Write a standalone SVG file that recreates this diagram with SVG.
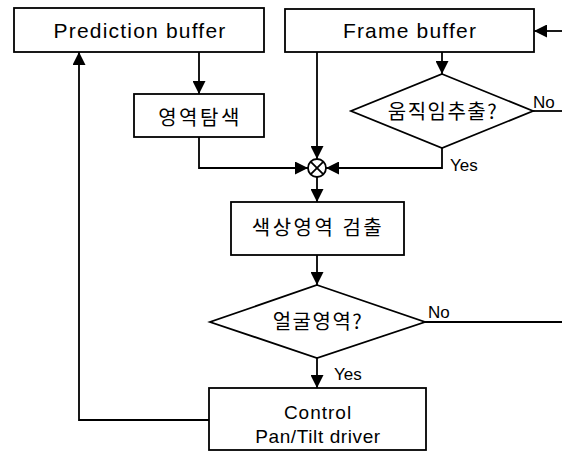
<svg xmlns="http://www.w3.org/2000/svg" width="562" height="452" viewBox="0 0 562 452">
<defs>
<style>
.box{fill:#fff;stroke:#000;stroke-width:1.8}
.ln{fill:none;stroke:#000;stroke-width:1.8}
.en{font-family:"Liberation Sans",Arial,sans-serif;font-size:21px;letter-spacing:1.2px;fill:#000;text-anchor:middle}
.ko{font-family:"Noto Sans CJK KR","Noto Sans",sans-serif;font-size:20px;fill:#000;text-anchor:middle}
.lab{font-family:"Liberation Sans",Arial,sans-serif;font-size:17px;fill:#000}
</style>
<marker id="ah" viewBox="0 0 13 13" refX="13" refY="6.5" markerWidth="13" markerHeight="13" markerUnits="userSpaceOnUse" orient="auto">
<path d="M0,0 L13,6.5 L0,13 Z" fill="#000"/>
</marker>
</defs>
<rect width="562" height="452" fill="#fff"/>
<g id="connectors">
<path class="ln" d="M199,52 V94" marker-end="url(#ah)"/>
<path class="ln" d="M199,137 V168 H308" marker-end="url(#ah)"/>
<path class="ln" d="M317,52 V159" marker-end="url(#ah)"/>
<path class="ln" d="M442,52 V74" marker-end="url(#ah)"/>
<path class="ln" d="M442,148 V168 H326" marker-end="url(#ah)"/>
<path class="ln" d="M533,111 H562"/>
<path class="ln" d="M562,31 H534" marker-end="url(#ah)"/>
<path class="ln" d="M317,177 V202" marker-end="url(#ah)"/>
<path class="ln" d="M317,255 V285" marker-end="url(#ah)"/>
<path class="ln" d="M425,322 H562"/>
<path class="ln" d="M317,358 V388" marker-end="url(#ah)"/>
<path class="ln" d="M209,420 H79 V52" marker-end="url(#ah)"/>
<text class="lab" x="450" y="171">Yes</text>
<text class="lab" x="533" y="108">No</text>
<text class="lab" x="334" y="380">Yes</text>
<text class="lab" x="428" y="318">No</text>
</g>
<g id="prediction-buffer">
<rect class="box" x="14" y="8" width="250" height="44"/>
<text class="en" x="140" y="38">Prediction buffer</text>
</g>
<g id="frame-buffer">
<rect class="box" x="285" y="9" width="249" height="43"/>
<text class="en" x="410" y="38">Frame buffer</text>
</g>
<g id="region-search">
<rect class="box" x="134" y="94" width="130" height="43"/>
<text class="ko" x="200" y="125" style="letter-spacing:2.5px">영역탐색</text>
</g>
<g id="motion-extract">
<polygon class="box" points="442,74 533,111 442,148 351,111"/>
<text class="ko" x="443" y="119" style="letter-spacing:1.5px">움직임추출?</text>
</g>
<g id="multiplier">
<circle class="box" cx="317" cy="168" r="9"/>
<path class="ln" d="M310.6,161.6 L323.4,174.4 M323.4,161.6 L310.6,174.4" stroke-width="1.3"/>
</g>
<g id="color-detect">
<rect class="box" x="231" y="202" width="173" height="53"/>
<text class="ko" x="318" y="235" style="letter-spacing:2.5px">색상영역 검출</text>
</g>
<g id="face-region">
<polygon class="box" points="317,285 425,322 317,358 210,322"/>
<text class="ko" x="318" y="329" style="letter-spacing:1.5px">얼굴영역?</text>
</g>
<g id="control">
<rect class="box" x="209" y="388" width="217" height="62"/>
<text class="en" x="318" y="419" style="font-size:19px;letter-spacing:1px">Control</text>
<text class="en" x="318" y="443" style="font-size:19px;letter-spacing:0.6px">Pan/Tilt driver</text>
</g>
</svg>
